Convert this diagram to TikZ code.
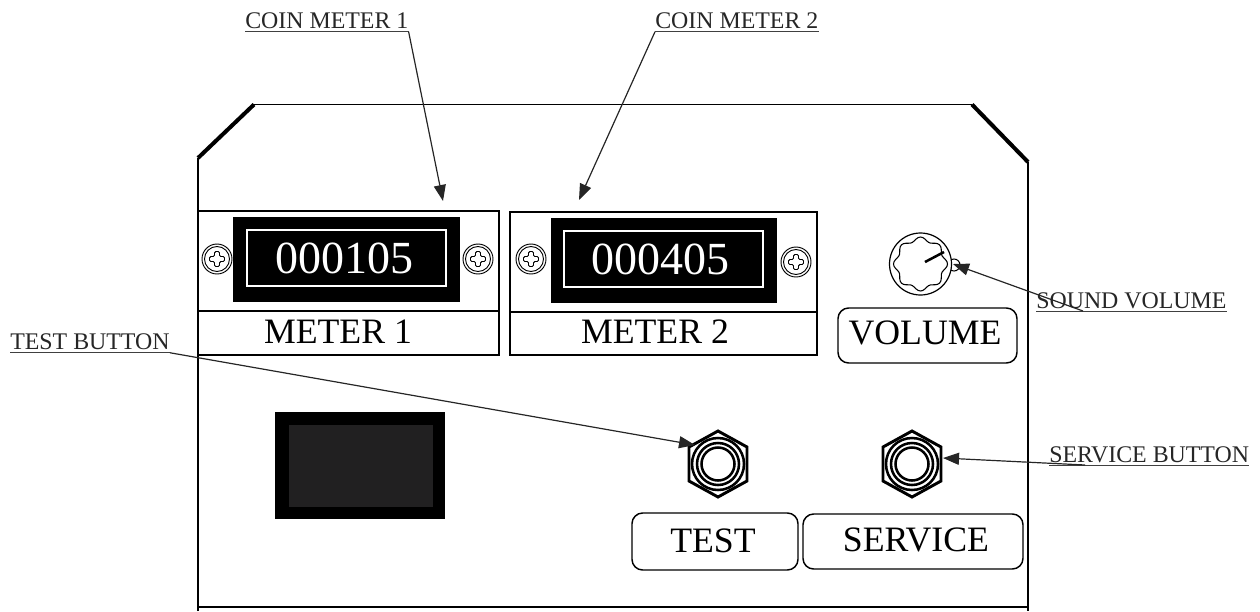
\documentclass[tikz,border=0pt]{standalone}
\usepackage{fontspec}
\setmainfont{Liberation Serif}
\usetikzlibrary{arrows.meta}

\definecolor{cutout}{HTML}{212021}

\tikzset{
  callout/.style={inner sep=0pt, text depth=2.6pt, text=black!85, font=\fontsize{17.9}{18}\selectfont},
  underrule/.style={line width=1.1pt, black!75},
  leader/.style={-{Triangle[length=12pt,width=9pt]}, line width=0.9pt, black!85},
  plate/.style={draw, line width=1.1pt},
  badge/.style={draw, line width=1.1pt, rounded corners=8pt},
  bigtext/.style={inner sep=0pt, font=\fontsize{26.8}{27}\selectfont},
  digits/.style={inner sep=0pt, text=white, font=\fontsize{34.5}{35}\selectfont}
}

\begin{document}
\begin{tikzpicture}[x=0.75pt, y=-0.75pt]
  \useasboundingbox (0,0) rectangle (1260,611);

  % cabinet outline
  \draw[line width=1.6pt] (198,611) -- (198,158);
  \draw[line width=3pt] (198,158) -- (254,104.5);
  \draw[line width=1.3pt] (254,104.5) -- (972,104.5);
  \draw[line width=3pt] (972,104.5) -- (1028,162);
  \draw[line width=1.6pt] (1028,162) -- (1028,611);
  \draw[line width=1.2pt] (198,607) -- (1028,607);

  % meter plates
  \draw[plate] (198,211) rectangle (499,311);
  \draw[plate] (198,311) rectangle (499,355);
  \draw[plate] (510,212) rectangle (817,312);
  \draw[plate] (510,312) rectangle (817,355);
  \node[bigtext] (label1) at (338,332) {METER 1};
  \node[bigtext] (label2) at (655,332) {METER 2};

  \fill (233,217) rectangle (460,302);
  \fill (551,218) rectangle (777,303);
  \draw[white, line width=0.9pt] (247,230) rectangle (446,286);
  \draw[white, line width=0.9pt] (564,231) rectangle (763,287);
  \node[digits] (count1) at (344,258) {000105};
  \node[digits] (count2) at (660,259) {000405};

  % screws
  \foreach \sx/\sy in {217/259, 478/259, 531/259, 796/262} {
    \draw[line width=0.7pt] (\sx,\sy) circle (15);
    \draw[line width=0.7pt] (\sx,\sy) circle (12.5);
    \draw[line width=0.7pt, rounded corners=1pt] (\sx-7.5,\sy-2.5) -- (\sx-2.5,\sy-2.5) -- (\sx-2.5,\sy-7.5) -- (\sx+2.5,\sy-7.5) -- (\sx+2.5,\sy-2.5) -- (\sx+7.5,\sy-2.5) -- (\sx+7.5,\sy+2.5) -- (\sx+2.5,\sy+2.5) -- (\sx+2.5,\sy+7.5) -- (\sx-2.5,\sy+7.5) -- (\sx-2.5,\sy+2.5) -- (\sx-7.5,\sy+2.5) -- cycle;
  }

  % volume knob
  \draw[line width=0.8pt] (954,265) circle (6);
  \draw[line width=0.9pt, fill=white] (920.5,264) circle (31);
  \draw[line width=0.8pt] plot[smooth cycle, samples=72, domain=0:355] ({920.5+(25+2*cos(8*\x))*cos(\x)}, {264+(25+2*cos(8*\x))*sin(\x)});
  \draw[line width=1.9pt] (925,262) -- (944,252);
  \draw[badge] (838,308) rectangle (1017,363);
  \node[bigtext] (volume) at (925,333) {VOLUME};

  % push buttons
  \foreach \bx in {718,912} {
    \draw[line width=2.2pt] (\bx,431) -- (\bx+29,447) -- (\bx+29,481) -- (\bx,497) -- (\bx-29,481) -- (\bx-29,447) -- cycle;
    \draw[line width=1.9pt] (\bx,464) circle (26);
    \draw[line width=1.9pt] (\bx,464) circle (21);
    \draw[line width=1.9pt] (\bx,464) circle (16.5);
  }
  \draw[badge] (632,513) rectangle (798,570);
  \draw[badge] (803,514) rectangle (1023,569);
  \node[bigtext] (test) at (713,541) {TEST};
  \node[bigtext] (service) at (916,540) {SERVICE};

  % display cutout
  \fill (275,412) rectangle (445,519);
  \fill[cutout] (289,425) rectangle (433,507);

  % callouts
  \node[callout, anchor=base west] (coin1) at (245,28) {COIN METER 1};
  \node[callout, anchor=base west] (coin2) at (655,28) {COIN METER 2};
  \node[callout, anchor=base west] (testbtn) at (10,349) {TEST BUTTON};
  \node[callout, anchor=base west] (sound) at (1036,308) {SOUND VOLUME};
  \node[callout, anchor=base west] (servicebtn) at (1049,462) {SERVICE BUTTON};
  \foreach \lbl in {coin1,coin2,testbtn,sound,servicebtn}
    \draw[underrule] (\lbl.south west) -- (\lbl.south east);

  \coordinate (tip1) at (443,201);
  \coordinate (tip2) at (579,200);
  \coordinate (tip3) at (695,445);
  \coordinate (tip4) at (943,458);
  \coordinate (tip5) at (953,264);
  \coordinate (from5) at (1083,311);
  \coordinate (from4) at (1085,465);

  \draw[leader] (coin1.south east) -- (tip1);
  \draw[leader] (coin2.south west) -- (tip2);
  \draw[leader] (testbtn.south east) -- (tip3);
  \draw[leader] (from4) -- (tip4);
  \draw[leader] (from5) -- (tip5);
\end{tikzpicture}
\end{document}
